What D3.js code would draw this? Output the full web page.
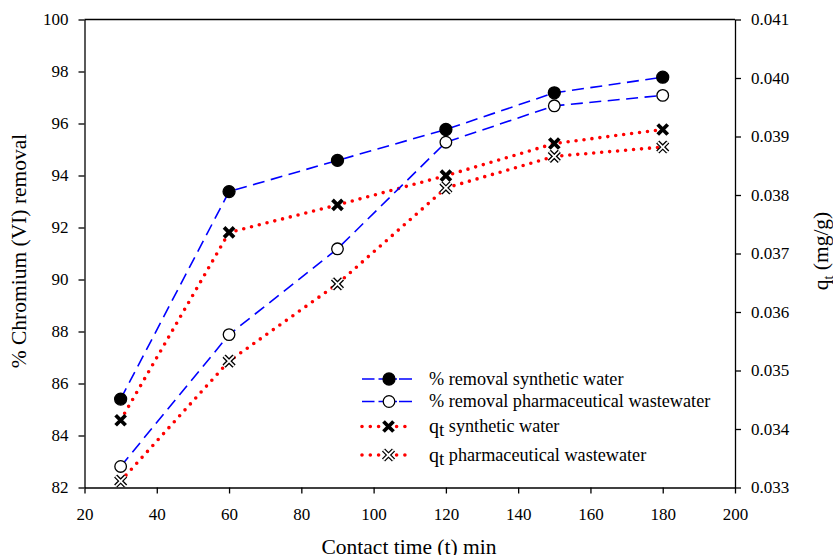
<!DOCTYPE html>
<html>
<head>
<meta charset="utf-8">
<script src="https://cdn.jsdelivr.net/npm/d3@7"></script>
<style>
  body { margin: 0; background: #fff; }
  text { font-family: "Liberation Serif", "DejaVu Serif", serif; }
</style>
</head>
<body>
<div id="chart"></div>
<script>
// Canvas and plot area
const WIDTH = 833;
const HEIGHT = 555;
const PLOT = {left: 84.5, right: 735, top: 19.5, bottom: 487.5};

// Data
const times = [30, 60, 90, 120, 150, 180];
const removalSynthetic = [85.4, 93.38, 94.58, 95.77, 97.18, 97.78];
const removalPharma = [82.81, 87.88, 91.18, 95.28, 96.68, 97.08];
const qtSynthetic = [0.03415, 0.03736, 0.03783, 0.03833, 0.03888, 0.03912];
const qtPharma = [0.03311, 0.03516, 0.03648, 0.03812, 0.03866, 0.03882];

const xTicks = [20, 40, 60, 80, 100, 120, 140, 160, 180, 200];
const leftTicks = [82, 84, 86, 88, 90, 92, 94, 96, 98, 100];
const rightTicks = [0.033, 0.034, 0.035, 0.036, 0.037, 0.038, 0.039, 0.040, 0.041];

const BLUE = "#0000ff";
const RED = "#ff0000";
const TICK_FONT = 17;
const TITLE_FONT = 21.5;
const LEGEND_FONT = 18.2;

let svg = d3.select("#chart")
            .append("svg")
            .attr("width", WIDTH)
            .attr("height", HEIGHT);

// Scales
let x = d3.scaleLinear().domain([20, 200]).range([PLOT.left, PLOT.right]);
let yLeft = d3.scaleLinear().domain([82, 100]).range([PLOT.bottom, PLOT.top]);
let yRight = d3.scaleLinear().domain([0.033, 0.041]).range([PLOT.bottom, PLOT.top]);

// Frame top line
svg.append("line")
    .attr("x1", PLOT.left).attr("x2", PLOT.right)
    .attr("y1", PLOT.top).attr("y2", PLOT.top)
    .attr("stroke", "#000").attr("stroke-width", 1.3);

// Axes
function styleAxis(g) {
    g.selectAll("path").attr("stroke", "#000").attr("stroke-width", 1.3);
    g.selectAll("line").attr("stroke", "#000").attr("stroke-width", 1.3);
    g.selectAll("text")
        .attr("font-family", "Liberation Serif")
        .attr("font-size", TICK_FONT)
        .attr("fill", "#000");
}

let xAxis = svg.append("g")
    .attr("transform", `translate(0, ${PLOT.bottom})`)
    .call(d3.axisBottom(x).tickValues(xTicks).tickSize(6).tickSizeOuter(0).tickPadding(14).tickFormat(d3.format("d")));
styleAxis(xAxis);

let leftAxis = svg.append("g")
    .attr("transform", `translate(${PLOT.left}, 0)`)
    .call(d3.axisLeft(yLeft).tickValues(leftTicks).tickSize(6).tickSizeOuter(0).tickPadding(10).tickFormat(d3.format("d")));
styleAxis(leftAxis);

let rightAxis = svg.append("g")
    .attr("transform", `translate(${PLOT.right}, 0)`)
    .call(d3.axisRight(yRight).tickValues(rightTicks).tickSize(6).tickSizeOuter(0).tickPadding(10).tickFormat(d3.format(".3f")));
styleAxis(rightAxis);

// Axis titles (the bottom and right ones run off the canvas, as in the reference)
svg.append("text")
    .attr("x", 409)
    .attr("y", 553.5)
    .attr("text-anchor", "middle")
    .attr("font-size", TITLE_FONT)
    .text("Contact time (t) min");

svg.append("text")
    .attr("transform", `translate(26, 251) rotate(-90)`)
    .attr("text-anchor", "middle")
    .attr("font-size", TITLE_FONT)
    .text("% Chromium (VI) removal");

let rightTitle = svg.append("text")
    .attr("transform", `translate(828, 251) rotate(-90)`)
    .attr("text-anchor", "middle")
    .attr("font-size", TITLE_FONT);
rightTitle.append("tspan").text("q");
rightTitle.append("tspan").attr("font-size", 14).attr("dy", 5).text("t");
rightTitle.append("tspan").attr("dy", -5).text(" (mg/g)");

// Lines
const dashed = {stroke: BLUE, width: 1.6, dash: "12,6.5", cap: "butt"};
const dotted = {stroke: RED, width: 3.6, dash: "0,8", cap: "round"};

function drawLine(values, yScale, style) {
    let line = d3.line()
                 .x((d, i) => x(times[i]))
                 .y(d => yScale(d));
    svg.append("path")
        .datum(values)
        .attr("fill", "none")
        .attr("stroke", style.stroke)
        .attr("stroke-width", style.width)
        .attr("stroke-dasharray", style.dash)
        .attr("stroke-linecap", style.cap)
        .attr("d", line);
}

drawLine(qtSynthetic, yRight, dotted);
drawLine(qtPharma, yRight, dotted);
drawLine(removalSynthetic, yLeft, dashed);
drawLine(removalPharma, yLeft, dashed);

// Markers
const XPATH = "M-5,-5L5,5M-5,5L5,-5";

function drawCircle(g, cx, cy, filled) {
    g.append("circle")
        .attr("cx", cx).attr("cy", cy).attr("r", filled ? 6 : 5.8)
        .attr("fill", filled ? "#000" : "#fff")
        .attr("stroke", "#000").attr("stroke-width", 1.3);
}

function drawCross(g, cx, cy, hollow) {
    g.append("path")
        .attr("d", XPATH)
        .attr("transform", `translate(${cx},${cy})`)
        .attr("stroke", "#000")
        .attr("stroke-width", hollow ? 4.4 : 3.8)
        .attr("fill", "none");
    if (hollow) {
        g.append("path")
            .attr("d", XPATH)
            .attr("transform", `translate(${cx},${cy})`)
            .attr("stroke", "#fff")
            .attr("stroke-width", 1.8)
            .attr("fill", "none");
    }
}

let marks = svg.append("g");
times.forEach((t, i) => {
    drawCross(marks, x(t), yRight(qtPharma[i]), true);
    drawCross(marks, x(t), yRight(qtSynthetic[i]), false);
    drawCircle(marks, x(t), yLeft(removalPharma[i]), false);
    drawCircle(marks, x(t), yLeft(removalSynthetic[i]), true);
});

// Legend
const legendLabels = ["% removal synthetic water", "% removal pharmaceutical wastewater", "synthetic water", "pharmaceutical wastewater"];
const legendRows = [379, 401.5, 426.5, 455];
const legendKinds = ["filled", "open", "cross", "hollow"];

let legend = svg.append("g");
legendLabels.forEach((label, i) => {
    let y = legendRows[i];
    let kind = legendKinds[i];
    let isQ = kind === "cross" || kind === "hollow";
    let style = isQ ? dotted : dashed;
    legend.append("line")
        .attr("x1", 362).attr("x2", 412)
        .attr("y1", y).attr("y2", y)
        .attr("stroke", style.stroke)
        .attr("stroke-width", style.width)
        .attr("stroke-dasharray", isQ ? "0,8.3,0,8.3,0,18,0,8.3,0,8.3" : "12.5,4,18.5,2,13")
        .attr("stroke-linecap", style.cap);
    if (kind === "filled") drawCircle(legend, 389, y, true);
    if (kind === "open") drawCircle(legend, 389, y, false);
    if (kind === "cross") drawCross(legend, 388.5, y, false);
    if (kind === "hollow") drawCross(legend, 388.5, y, true);

    let txt = legend.append("text")
        .attr("x", 429)
        .attr("y", y + 5.5)
        .attr("font-size", LEGEND_FONT);
    if (isQ) {
        txt.append("tspan").attr("font-size", 20).attr("dy", 1).text("q");
        txt.append("tspan").attr("font-size", 19).attr("dy", 3).text("t");
        txt.append("tspan").attr("dy", -4).text(" " + label);
    } else {
        txt.text(label);
    }
});
</script>
</body>
</html>
